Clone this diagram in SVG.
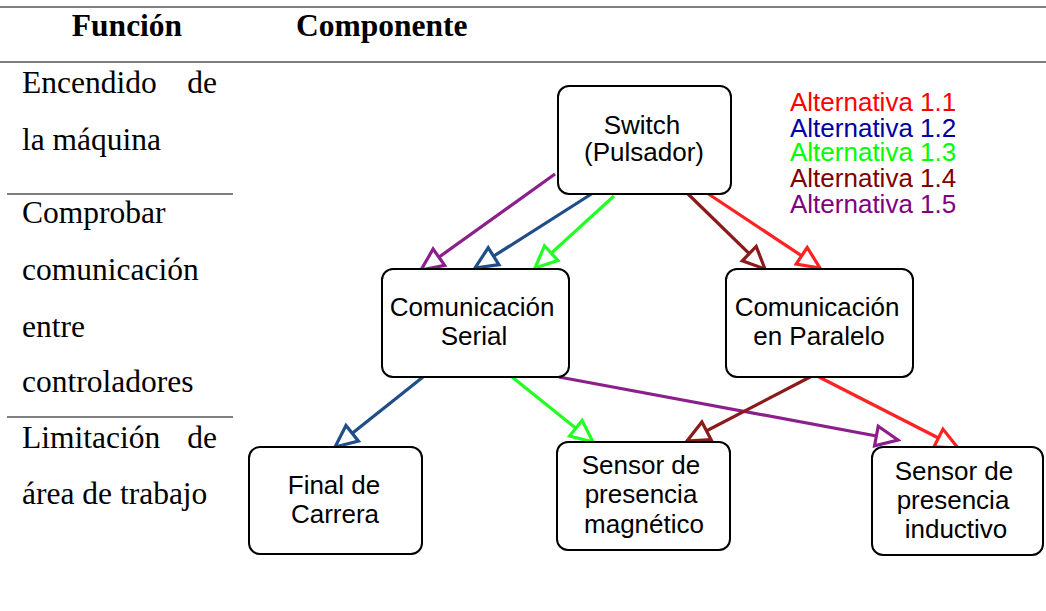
<svg xmlns="http://www.w3.org/2000/svg" width="1046" height="611" viewBox="0 0 1046 611">
<style>
.rule{stroke:#7f7f7f;stroke-width:2}
.hd{font-family:"Liberation Serif","Times New Roman",serif;font-weight:bold;font-size:31.5px;fill:#000}
.tb{font-family:"Liberation Serif","Times New Roman",serif;font-size:31.5px;fill:#000}
.box{fill:#fff;stroke:#000;stroke-width:2}
.nt{font-family:"Liberation Sans",Arial,sans-serif;font-size:26px;fill:#000;text-anchor:middle}
.lg{font-family:"Liberation Sans",Arial,sans-serif;font-size:26px}
.c{fill:none;stroke-width:3.2}
</style>
<defs>
<marker id="mR" markerUnits="userSpaceOnUse" viewBox="-28 -15 31 30" refX="0" refY="0" markerWidth="31" markerHeight="30" orient="auto"><path d="M0,0 L-22,-10 L-22,10 Z" fill="#fff" stroke="#ff2222" stroke-width="3.2"/></marker>
<marker id="mB" markerUnits="userSpaceOnUse" viewBox="-28 -15 31 30" refX="0" refY="0" markerWidth="31" markerHeight="30" orient="auto"><path d="M0,0 L-22,-10 L-22,10 Z" fill="#fff" stroke="#1f4e89" stroke-width="3.2"/></marker>
<marker id="mG" markerUnits="userSpaceOnUse" viewBox="-28 -15 31 30" refX="0" refY="0" markerWidth="31" markerHeight="30" orient="auto"><path d="M0,0 L-22,-10 L-22,10 Z" fill="#fff" stroke="#22ff22" stroke-width="3.2"/></marker>
<marker id="mD" markerUnits="userSpaceOnUse" viewBox="-28 -15 31 30" refX="0" refY="0" markerWidth="31" markerHeight="30" orient="auto"><path d="M0,0 L-22,-10 L-22,10 Z" fill="#fff" stroke="#8b1a1a" stroke-width="3.2"/></marker>
<marker id="mP" markerUnits="userSpaceOnUse" viewBox="-28 -15 31 30" refX="0" refY="0" markerWidth="31" markerHeight="30" orient="auto"><path d="M0,0 L-22,-10 L-22,10 Z" fill="#fff" stroke="#8b1f8b" stroke-width="3.2"/></marker>
</defs>

<g id="table">
<line class="rule" x1="0" y1="7" x2="1046" y2="7"/>
<line class="rule" x1="0" y1="62" x2="1046" y2="62"/>
<line class="rule" x1="7" y1="194" x2="233" y2="194"/>
<line class="rule" x1="7" y1="417" x2="233" y2="417"/>
<text class="hd" x="127" y="36" text-anchor="middle">Función</text>
<text class="hd" x="296" y="36">Componente</text>
<text class="tb" x="22" y="93">Encendido</text>
<text class="tb" x="217" y="93" text-anchor="end">de</text>
<text class="tb" x="22" y="150">la máquina</text>
<text class="tb" x="22" y="223">Comprobar</text>
<text class="tb" x="22" y="280">comunicación</text>
<text class="tb" x="22" y="337">entre</text>
<text class="tb" x="22" y="392">controladores</text>
<text class="tb" x="22" y="448">Limitación</text>
<text class="tb" x="217" y="448" text-anchor="end">de</text>
<text class="tb" x="22" y="504">área de trabajo</text>
</g>

<g id="legend">
<text class="lg" x="790" y="111" fill="#ff0000">Alternativa 1.1</text>
<text class="lg" x="790" y="137" fill="#0000a0">Alternativa 1.2</text>
<text class="lg" x="790" y="161" fill="#00ff00">Alternativa 1.3</text>
<text class="lg" x="790" y="187" fill="#800000">Alternativa 1.4</text>
<text class="lg" x="790" y="213" fill="#800080">Alternativa 1.5</text>
</g>

<g id="connectors">
<line class="c" stroke="#8b1f8b" x1="555" y1="174" x2="421" y2="270" marker-end="url(#mP)"/>
<line class="c" stroke="#1f4e89" x1="593" y1="193" x2="475" y2="268" marker-end="url(#mB)"/>
<line class="c" stroke="#22ff22" x1="614" y1="196" x2="535" y2="268" marker-end="url(#mG)"/>
<line class="c" stroke="#8b1a1a" x1="687" y1="193" x2="765" y2="269" marker-end="url(#mD)"/>
<line class="c" stroke="#ff2222" x1="707" y1="193" x2="820" y2="268" marker-end="url(#mR)"/>
<line class="c" stroke="#1f4e89" x1="423" y1="377" x2="335" y2="447" marker-end="url(#mB)"/>
<line class="c" stroke="#22ff22" x1="512" y1="377" x2="593" y2="442" marker-end="url(#mG)"/>
<line class="c" stroke="#8b1f8b" x1="559" y1="377" x2="898" y2="440" marker-end="url(#mP)"/>
<line class="c" stroke="#8b1a1a" x1="812" y1="376" x2="687" y2="441" marker-end="url(#mD)"/>
<line class="c" stroke="#ff2222" x1="819" y1="377" x2="958" y2="448" marker-end="url(#mR)"/>
</g>

<g id="switch">
<rect class="box" x="558" y="86" width="173" height="108" rx="11"/>
<text class="nt" x="642" y="134">Switch</text>
<text class="nt" x="644" y="161">(Pulsador)</text>
</g>

<g id="serial">
<rect class="box" x="382" y="269" width="187" height="108" rx="11"/>
<text class="nt" x="472" y="316">Comunicación</text>
<text class="nt" x="474" y="345">Serial</text>
</g>

<g id="paralelo">
<rect class="box" x="726" y="269" width="187" height="108" rx="11"/>
<text class="nt" x="817" y="316">Comunicación</text>
<text class="nt" x="819" y="345">en Paralelo</text>
</g>

<g id="final">
<rect class="box" x="249" y="447" width="173" height="107" rx="11"/>
<text class="nt" x="334" y="494">Final de</text>
<text class="nt" x="335" y="523">Carrera</text>
</g>

<g id="magnetico">
<rect class="box" x="557" y="442" width="173" height="108" rx="11"/>
<text class="nt" x="641" y="474">Sensor de</text>
<text class="nt" x="641" y="503">presencia</text>
<text class="nt" x="644" y="533">magnético</text>
</g>

<g id="inductivo">
<rect class="box" x="872" y="447" width="171" height="108" rx="11"/>
<text class="nt" x="954" y="480">Sensor de</text>
<text class="nt" x="953" y="509">presencia</text>
<text class="nt" x="956" y="538">inductivo</text>
</g>
</svg>
